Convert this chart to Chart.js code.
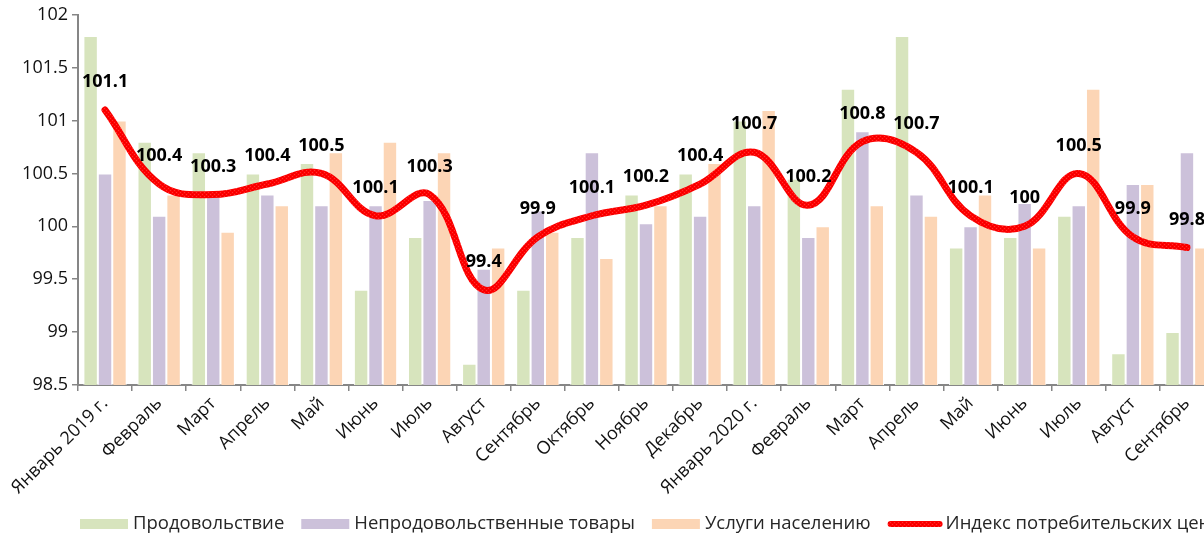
<!DOCTYPE html>
<html>
<head>
<meta charset="utf-8">
<script src="https://cdn.jsdelivr.net/npm/chart.js@4"></script>
<style>
  html, body { margin: 0; padding: 0; background: #fff; overflow: hidden; width: 1204px; height: 535px; }
  #wrap { position: relative; width: 1222px; height: 535px; }
</style>
</head>
<body>
<div id="wrap"><canvas id="cpiChart" width="1222" height="535"></canvas></div>
<script>
const months = ["Январь 2019 г.", "Февраль", "Март", "Апрель", "Май", "Июнь", "Июль", "Август", "Сентябрь", "Октябрь", "Ноябрь", "Декабрь",
  "Январь 2020 г.", "Февраль", "Март", "Апрель", "Май", "Июнь", "Июль", "Август", "Сентябрь"];
const food     = [101.8, 100.8, 100.7, 100.5, 100.6, 99.4, 99.9, 98.7, 99.4, 99.9, 100.3, 100.5, 101.0, 100.45, 101.3, 101.8, 99.8, 99.9, 100.1, 98.8, 99.0];
const nonFood  = [100.5, 100.1, 100.3, 100.3, 100.2, 100.2, 100.25, 99.6, 100.15, 100.7, 100.03, 100.1, 100.2, 99.9, 100.9, 100.3, 100.0, 100.22, 100.2, 100.4, 100.7];
const services = [101.0, 100.3, 99.95, 100.2, 100.7, 100.8, 100.7, 99.8, 99.95, 99.7, 100.2, 100.6, 101.1, 100.0, 100.2, 100.1, 100.3, 99.8, 101.3, 100.4, 99.8];
const cpi      = [101.1, 100.4, 100.3, 100.4, 100.5, 100.1, 100.3, 99.4, 99.9, 100.1, 100.2, 100.4, 100.7, 100.2, 100.8, 100.7, 100.1, 100, 100.5, 99.9, 99.8];
const yTicks   = [98.5, 99, 99.5, 100, 100.5, 101, 101.5, 102];

const FONT = "'Open Sans', 'DejaVu Sans', sans-serif";

// red line with a slight speckled texture, like the original
function makeLinePattern() {
  const c = document.createElement("canvas");
  c.width = 4; c.height = 4;
  const g = c.getContext("2d");
  g.fillStyle = "#ff0000";
  g.fillRect(0, 0, 4, 4);
  g.fillStyle = "#ff3030";
  g.fillRect(0, 0, 1, 1);
  g.fillRect(2, 2, 1, 1);
  g.fillStyle = "#e60000";
  g.fillRect(2, 0, 1, 1);
  g.fillRect(0, 2, 1, 1);
  return g.createPattern(c, "repeat");
}
const linePattern = makeLinePattern();

// value labels above the CPI line
const lineLabels = {
  id: "lineLabels",
  afterDatasetsDraw(chart) {
    const ctx = chart.ctx;
    const meta = chart.getDatasetMeta(3);
    ctx.save();
    ctx.font = "bold 18px " + FONT;
    ctx.fillStyle = "#000";
    ctx.textAlign = "center";
    ctx.textBaseline = "middle";
    meta.data.forEach((pt, i) => {
      ctx.fillText(String(cpi[i]), pt.x, pt.y - 28);
    });
    ctx.restore();
  }
};

// legend along the bottom, starting at the y axis
const bottomLegend = {
  id: "bottomLegend",
  afterDraw(chart) {
    const ctx = chart.ctx;
    const y = 524;
    let x = chart.chartArea.left + 2;
    ctx.save();
    ctx.font = "18.5px " + FONT;
    ctx.textBaseline = "middle";
    ctx.textAlign = "left";
    chart.data.datasets.forEach(ds => {
      if (ds.type === "line") {
        ctx.strokeStyle = linePattern;
        ctx.lineWidth = 6;
        ctx.lineCap = "round";
        ctx.beginPath();
        ctx.moveTo(x + 3, y);
        ctx.lineTo(x + 52, y);
        ctx.stroke();
        x += 58;
      } else {
        ctx.fillStyle = ds.backgroundColor;
        ctx.fillRect(x, y - 5, 48, 10);
        x += 53;
      }
      ctx.fillStyle = "#262626";
      ctx.fillText(ds.label, x, y);
      x += ctx.measureText(ds.label).width + 17;
    });
    ctx.restore();
  }
};

const barBase = { borderColor: "#ffffff", borderWidth: 1, categoryPercentage: 0.8, barPercentage: 1, order: 2 };

new Chart(document.getElementById("cpiChart"), {
  type: "bar",
  data: {
    labels: months,
    datasets: [
      Object.assign({ label: "Продовольствие", data: food, backgroundColor: "#d7e4bd" }, barBase),
      Object.assign({ label: "Непродовольственные товары", data: nonFood, backgroundColor: "#ccc1da" }, barBase),
      Object.assign({ label: "Услуги населению", data: services, backgroundColor: "#fcd5b5" }, barBase),
      {
        type: "line",
        label: "Индекс потребительских цен",
        data: cpi,
        borderColor: linePattern,
        borderWidth: 7,
        borderCapStyle: "round",
        tension: 0.4,
        pointRadius: 0,
        fill: false,
        order: 0
      }
    ]
  },
  options: {
    responsive: false,
    animation: false,
    layout: { padding: { top: 8, left: 0, right: 8, bottom: 0 } },
    plugins: {
      legend: { display: false },
      tooltip: { enabled: false }
    },
    scales: {
      x: {
        grid: { display: true, drawOnChartArea: false, drawTicks: true, tickLength: 6, color: "#868686", lineWidth: 1.5, offset: true },
        border: { display: true, color: "#868686", width: 2 },
        ticks: {
          color: "#111",
          font: { family: FONT, size: 18 },
          maxRotation: 45,
          minRotation: 45,
          autoSkip: false,
          padding: 2
        },
        afterFit(scale) { scale.height = 150; }
      },
      y: {
        min: 98.5,
        max: 102,
        afterBuildTicks(scale) { scale.ticks = yTicks.map(v => ({ value: v })); },
        grid: { display: true, drawOnChartArea: false, drawTicks: true, tickLength: 6, color: "#868686", lineWidth: 1.5 },
        border: { display: true, color: "#868686", width: 2 },
        ticks: {
          color: "#111",
          font: { family: FONT, size: 18 },
          padding: 4,
          callback: v => String(v)
        },
        afterFit(scale) { scale.width = 78; }
      }
    }
  },
  plugins: [lineLabels, bottomLegend]
});
</script>
</body>
</html>
